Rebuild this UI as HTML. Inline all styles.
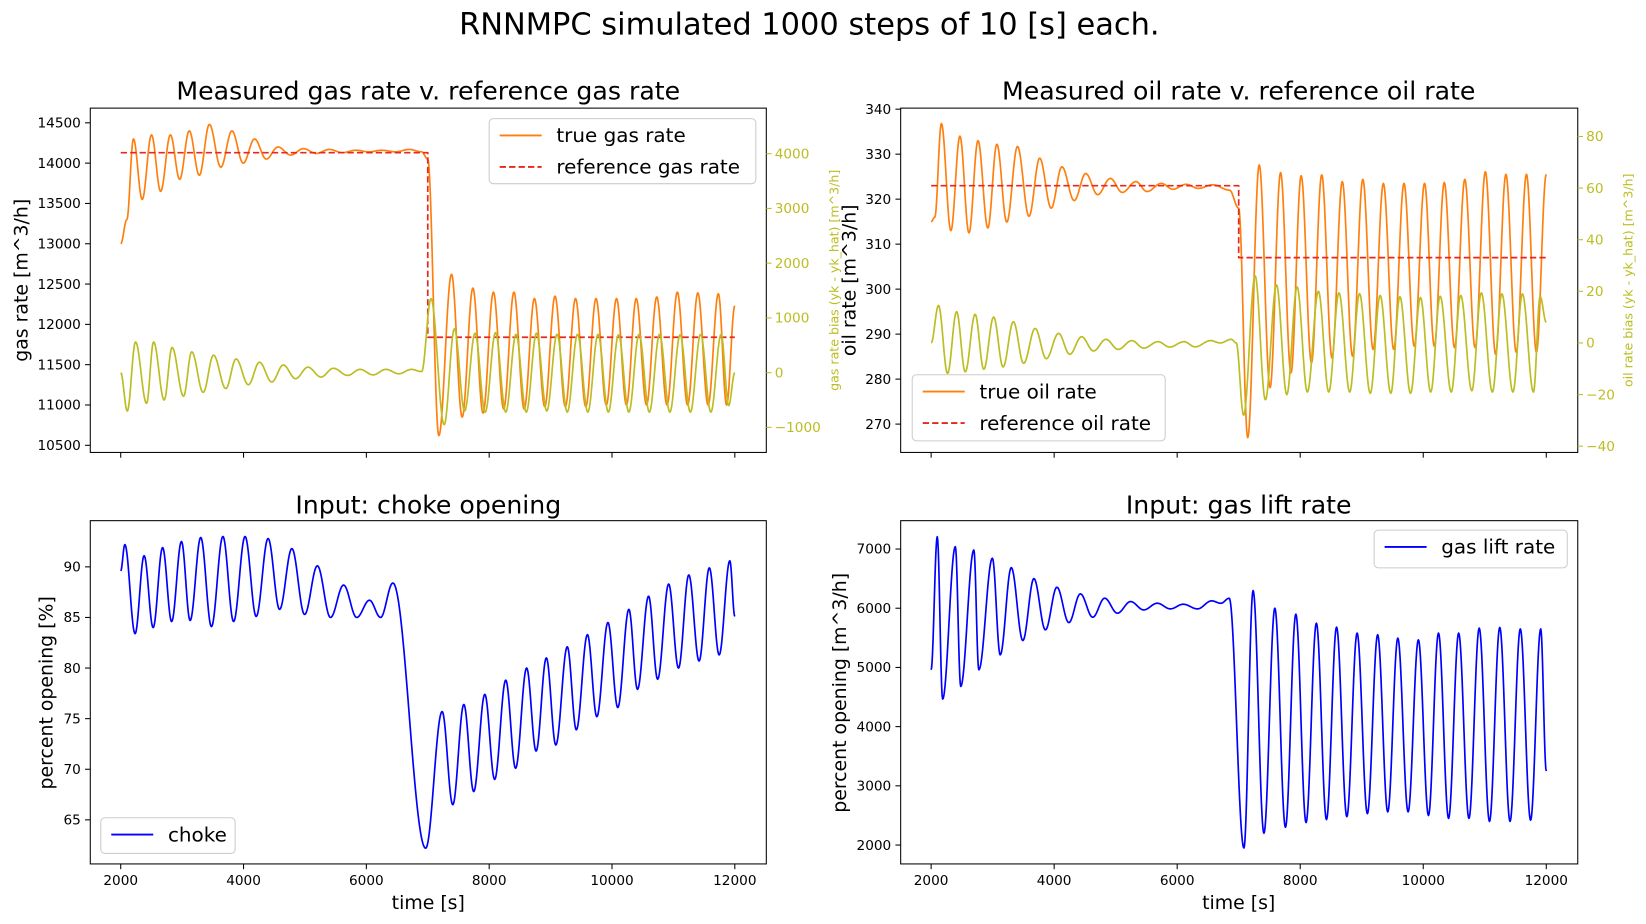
<!DOCTYPE html>
<html><head><meta charset="utf-8"><style>
html,body{margin:0;padding:0;background:#fff;}
svg{display:block;font-family:"DejaVu Sans","Liberation Sans",sans-serif;}
</style></head><body>
<svg id="fig" width="1646" height="924" viewBox="0 0 1646 924" xmlns="http://www.w3.org/2000/svg">
<g id="root" transform="scale(1.04974)">
<text x="771" y="33" font-size="29" text-anchor="middle">RNNMPC simulated 1000 steps of 10 [s] each.</text>
</g>
</svg>
<script>
const xTicks=[2000,4000,6000,8000,10000,12000];
const gasTicks=[10500,11000,11500,12000,12500,13000,13500,14000,14500];
const gasBiasTicks=[-1000,0,1000,2000,3000,4000];
const oilTicks=[270,280,290,300,310,320,330,340];
const oilBiasTicks=[-40,-20,0,20,40,60,80];
const chokeTicks=[65,70,75,80,85,90];
const liftTicks=[2000,3000,4000,5000,6000,7000];
const gasRefT=[2000,7000,7000,12000];
const gasRefV=[14130,14130,11840,11840];
const oilRefT=[2000,7000,7000,12000];
const oilRefV=[323,323,307,307];
const gasT=[2000,2100,2207,2350,2501,2650,2809,2960,3116,3280,3444,3630,3811,3995,4179,4370,4560,4770,4974,5185,5395,5610,5830,6040,6251,6475,6699,6900,7000,7180,7387,7560,7735,7900,8069,8236,8403,8570,8737,8905,9072,9240,9406,9573,9740,9907,10074,10235,10395,10562,10729,10896,11064,11231,11398,11565,11732,11866,12000];
const gasV=[13000,13300,14300,13550,14350,13650,14350,13800,14400,13850,14480,13950,14400,14000,14300,14050,14200,14100,14180,14120,14170,14130,14160,14140,14160,14140,14170,14140,14050,10620,12620,10850,12450,10900,12400,10950,12400,10950,12320,10980,12350,10980,12320,10980,12320,11000,12320,11000,12320,11000,12340,11000,12400,11000,12390,11000,12380,11000,12230];
const gasBiasT=[2000,2107,2241,2421,2535,2708,2836,3023,3156,3343,3511,3711,3878,4079,4259,4460,4647,4847,5048,5262,5462,5696,5897,6110,6318,6530,6732,6900,7053,7267,7434,7600,7770,7936,8103,8270,8437,8604,8771,8938,9105,9272,9439,9606,9773,9940,10107,10274,10441,10608,10775,10942,11109,11276,11443,11610,11777,11900,12000];
const gasBiasV=[0,-700,560,-560,560,-500,460,-430,380,-360,320,-290,250,-220,190,-170,140,-110,100,-80,80,-50,60,-40,60,-20,60,20,1350,-950,800,-700,720,-720,730,-720,700,-720,720,-700,700,-720,700,-720,700,-720,690,-720,700,-720,700,-720,690,-720,700,-720,700,-600,0];
const oilT=[2000,2060,2167,2321,2468,2615,2762,2922,3069,3230,3404,3591,3765,3952,4126,4326,4513,4707,4914,5108,5329,5509,5743,5930,6144,6345,6579,6850,7000,7147,7334,7510,7681,7850,8016,8183,8350,8517,8684,8851,9018,9185,9352,9520,9687,9854,10021,10180,10342,10509,10676,10843,11010,11177,11344,11511,11678,11840,12000];
const oilV=[315,316,336.8,313,334,312.5,333,313.6,332.2,314.9,331.7,316.2,329.1,318,327.2,319.7,325.7,321,324.6,321.5,323.9,321.7,323.5,322.2,323.3,322.4,323.2,322,318,267,327.6,278.1,325.9,281.4,325.2,283.6,325.4,284.7,323.9,285.1,324.4,286.6,323.5,286.6,323.5,287.3,323.5,287.3,323.7,287,324.4,287,326.1,285.5,325.5,286,325.5,286,325.5];
const oilBiasT=[2000,2120,2267,2414,2555,2715,2856,3016,3170,3337,3504,3691,3872,4072,4253,4446,4640,4841,5041,5262,5456,5690,5877,6111,6291,6545,6700,6880,6960,7080,7267,7434,7614,7782,7949,8116,8296,8464,8630,8805,8964,9139,9299,9473,9620,9794,9954,10122,10275,10456,10609,10790,10944,11124,11278,11458,11612,11792,11900,12000];
const oilBiasV=[0,14.5,-11.8,12.1,-11.2,11.1,-10.2,10,-9.3,8.2,-7.9,5.6,-6.1,3.7,-4.4,2.4,-3.1,1.4,-2.5,0.9,-2,0.5,-1.6,0.5,-1.5,0.9,0,1.4,0,-28,26,-22,22.5,-20,21.7,-19,20,-19,19.4,-19,19.1,-19.5,18.4,-19.5,17.9,-19.5,17.6,-19,18.1,-19,18.4,-18.5,19.4,-19,19,-19,19,-19,18,8];
const chokeT=[2000,2067,2234,2381,2528,2682,2829,2989,3130,3303,3477,3664,3838,4025,4206,4400,4587,4787,4994,5202,5416,5629,5843,6051,6231,6432,6966,7234,7407,7588,7748,7929,8089,8270,8430,8610,8764,8931,9085,9272,9419,9600,9753,9934,10094,10275,10415,10596,10743,10923,11083,11251,11418,11585,11745,11919,12000];
const chokeV=[89.6,92.2,83.4,91.1,84.0,91.9,84.6,92.5,84.7,92.9,84.1,93.0,84.6,93.0,85.1,92.8,85.8,91.8,85.3,90.1,85.0,88.2,85.0,86.7,85.0,88.4,62.2,75.7,66.5,76.4,67.8,77.4,69.0,78.8,70.1,80.0,71.8,81.0,72.4,82.1,73.9,83.3,75.2,84.5,76.1,85.8,77.9,87.1,78.9,88.3,80.0,89.2,80.7,89.9,81.3,90.6,85.1];
const liftT=[2000,2100,2187,2394,2481,2695,2775,2996,3123,3303,3491,3671,3858,4045,4239,4426,4627,4821,5028,5242,5456,5676,5890,6097,6331,6559,6712,6846,7085,7234,7410,7588,7760,7929,8095,8263,8427,8591,8758,8925,9092,9259,9423,9587,9754,9921,10085,10248,10412,10576,10743,10910,11077,11244,11411,11578,11745,11910,12000];
const liftV=[4960,7208,4466,7040,4680,6983,4960,6843,5213,6685,5455,6500,5635,6354,5758,6242,5848,6169,5916,6112,5972,6084,5989,6067,5989,6124,6084,6169,1950,6298,2200,6000,2300,5899,2380,5747,2430,5680,2480,5579,2530,5551,2560,5494,2560,5466,2500,5579,2450,5579,2450,5663,2400,5674,2400,5650,2420,5650,3250];

const svg=document.getElementById('fig');
const root=document.getElementById('root');
const NS='http://www.w3.org/2000/svg';
function el(tag,attrs,parent){const e=document.createElementNS(NS,tag);for(const k in attrs)e.setAttribute(k,attrs[k]);(parent||root).appendChild(e);return e;}
function lin(d0,d1,r0,r1){return v=>r0+(v-d0)*(r1-r0)/(d1-d0);}
function curve(T,V,sx,sy){
  let pts=[];
  for(let i=0;i<T.length-1;i++){
    const t0=T[i],t1=T[i+1],v0=V[i],v1=V[i+1];
    const n=Math.max(2,Math.ceil((t1-t0)/8));
    for(let k=0;k<n;k++){const u=k/n;const w=(1-Math.cos(Math.PI*u))/2;pts.push(sx(t0+(t1-t0)*u).toFixed(2)+','+sy(v0+(v1-v0)*w).toFixed(2));}
  }
  pts.push(sx(T[T.length-1]).toFixed(2)+','+sy(V[V.length-1]).toFixed(2));
  return pts.join(' ');
}
function poly(T,V,sx,sy){return T.map((t,i)=>sx(t).toFixed(2)+','+sy(V[i]).toFixed(2)).join(' ');}
function fmt(v){return v<0?'\u2212'+Math.abs(v):String(v);}

function axes(name,x0,y0,x1,y1,sx,sy,yt,showXLabels){
  const g=el('g',{});
  
  
  const r=el('rect',{x:x0,y:y0,width:x1-x0,height:y1-y0,fill:'none',stroke:'#000','stroke-width':1},g);
  
  
  xTicks.forEach(t=>{
    const x=sx(t);
    const tk=el('line',{x1:x,x2:x,y1:y1,y2:y1+5,stroke:'#000'},g);
    
    
    if(showXLabels){const tx=el('text',{x:x,y:y1+20,'font-size':13,'text-anchor':'middle'},g);tx.textContent=t;
      
      }
  });
  yt.forEach(v=>{
    const y=sy(v);
    const tk=el('line',{x1:x0-5,x2:x0,y1:y,y2:y,stroke:'#000'},g);
    
    
    const tx=el('text',{x:x0-9,y:y+4.5,'font-size':13,'text-anchor':'end'},g);tx.textContent=fmt(v);
    
    
  });
  return g;
}
function rightAxis(name,x1,sy,ticks){
  ticks.forEach(v=>{
    const y=sy(v);
    const tk=el('line',{x1:x1,x2:x1+5,y1:y,y2:y,stroke:'#bcbd22'});
    
    
    const tx=el('text',{x:x1+8,y:y+4.5,'font-size':13,fill:'#bcbd22'});tx.textContent=fmt(v);
    
    
  });
}
function text(str,x,y,size,name,rot,fill){
  const t=el('text',{x:x,y:y,'font-size':size,'text-anchor':'middle',fill:fill||'#000'});
  if(rot)t.setAttribute('transform','rotate(-90 '+x+' '+y+')');
  t.textContent=str;
  
  
  return t;
}
function line(T,V,sx,sy,color,name,dash,clip,isPoly){
  const p=el('polyline',{points:isPoly?poly(T,V,sx,sy):curve(T,V,sx,sy),fill:'none',stroke:color,'stroke-width':1.6,'stroke-linejoin':'round'});
  if(dash)p.setAttribute('stroke-dasharray',dash);
  if(clip)p.setAttribute('clip-path','url(#'+clip+')');
  
  
}
function legend(name,x,y,w,h,items){
  const g=el('g',{});
  
  
  el('rect',{x:x,y:y,width:w,height:h,rx:4,fill:'#fff','fill-opacity':0.8,stroke:'#ccc'},g);
  items.forEach((it,i)=>{
    const cy=y+16+i*30;
    const l=el('line',{x1:x+10,x2:x+50,y1:cy,y2:cy,stroke:it[1],'stroke-width':1.8},g);
    if(it[2])l.setAttribute('stroke-dasharray','6,3');
    
    
    const t=el('text',{x:x+64,y:cy+6.5,'font-size':19},g);t.textContent=it[0];
    
    
  });
}
const defs=el('defs',{});
[['c1',86,103,644,328],['c2',858,103,645,328],['c3',86,496,644,327],['c4',858,496,645,327]].forEach(c=>{
  const cp=el('clipPath',{id:c[0]},defs);el('rect',{x:c[1],y:c[2],width:c[3],height:c[4]},cp);
});

const sxL=lin(2000,12000,115,700), sxR=lin(2000,12000,887,1473);
const syGas=lin(14500,10500,117,424.2), syGB=lin(0,4000,355,146.4);
axes('gas-rate-axes',86,103,730,431,sxL,syGas,gasTicks,false);
rightAxis('gas-bias-axis',730,syGB,gasBiasTicks);
line(gasT,gasV,sxL,syGas,'#ff7f0e','true-gas-rate-line',null,'c1');
line(gasRefT,gasRefV,sxL,syGas,'#e8281e','reference-gas-rate-line','6,3','c1',true);
line(gasBiasT,gasBiasV,sxL,syGB,'#bcbd22','gas-rate-bias-line',null,'c1');
text('Measured gas rate v. reference gas rate',408,95,24,'gas-plot-title');
text('gas rate [m^3/h]',26,267,18,'gas-y-axis-title',true);
text('gas rate bias (yk - yk_hat) [m^3/h]',799,267,12,'gas-bias-axis-title',true,'#bcbd22');
legend('gas-legend',466,113,254,62,[['true gas rate','#ff7f0e',false],['reference gas rate','#e8281e',true]]);

const syOil=lin(340,270,104,404), syOB=lin(0,80,326.7,130);
axes('oil-rate-axes',858,103,1503,431,sxR,syOil,oilTicks,false);
rightAxis('oil-bias-axis',1503,syOB,oilBiasTicks);
line(oilT,oilV,sxR,syOil,'#ff7f0e','true-oil-rate-line',null,'c2');
line(oilRefT,oilRefV,sxR,syOil,'#e8281e','reference-oil-rate-line','6,3','c2',true);
line(oilBiasT,oilBiasV,sxR,syOB,'#bcbd22','oil-rate-bias-line',null,'c2');
text('Measured oil rate v. reference oil rate',1180,95,24,'oil-plot-title');
text('oil rate [m^3/h]',815,267,18,'oil-y-axis-title',true);
text('oil rate bias (yk - yk_hat) [m^3/h]',1555,267,12,'oil-bias-axis-title',true,'#bcbd22');
legend('oil-legend',869,357,241,63,[['true oil rate','#ff7f0e',false],['reference oil rate','#e8281e',true]]);

const syCh=lin(90,65,540,781);
axes('choke-axes',86,496,730,823,sxL,syCh,chokeTicks,true);
line(chokeT,chokeV,sxL,syCh,'#0000ff','choke-line',null,'c3');
text('Input: choke opening',408,489,24,'choke-plot-title');
text('percent opening [%]',50,660,18,'choke-y-axis-title',true);
text('time [s]',408,866,18,'choke-x-axis-title');
legend('choke-legend',96,779,128,34,[['choke','#0000ff',false]]);

const syLift=lin(7000,2000,523,805);
axes('gas-lift-axes',858,496,1503,823,sxR,syLift,liftTicks,true);
line(liftT,liftV,sxR,syLift,'#0000ff','gas-lift-line',null,'c4');
text('Input: gas lift rate',1180,489,24,'gas-lift-plot-title');
text('percent opening [m^3/h]',806,660,18,'gas-lift-y-axis-title',true);
text('time [s]',1180,866,18,'gas-lift-x-axis-title');
legend('gas-lift-legend',1309,505,184,36,[['gas lift rate','#0000ff',false]]);
</script>
</body></html>
